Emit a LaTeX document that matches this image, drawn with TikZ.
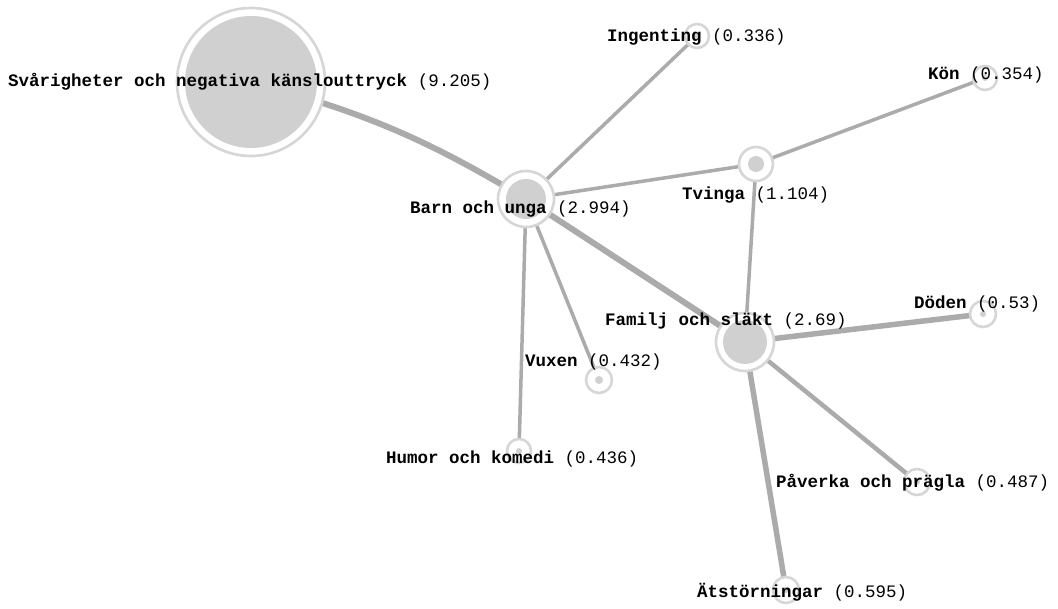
\documentclass[tikz,border=0pt]{standalone}
\usepackage{fontspec}
\setmonofont{Liberation Mono}
\usetikzlibrary{backgrounds}
\definecolor{ringgray}{HTML}{D6D6D6}
\definecolor{fillgray}{HTML}{D0D0D0}
\definecolor{edgegray}{HTML}{ABABAB}
\tikzset{
  bubble/.style 2 args={circle, draw=ringgray, line width=2.6pt, fill=white,
    minimum size=#1pt, inner sep=0pt,
    path picture={\fill[fillgray] (path picture bounding box.center) circle (#2pt);}},
  lbl/.style={anchor=west, inner sep=0pt, text=black,
    font=\fontsize{17.5}{19}\selectfont\ttfamily},
  edge/.style={draw=edgegray, line width=#1pt},
}
\newcommand{\lab}[2]{\textbf{#1} #2}
\begin{document}
\begin{tikzpicture}[x=1pt,y=-1pt]
\useasboundingbox (0,0) rectangle (1058,609);
% nodes
\node[bubble={148}{66}] (big) at (251,82) {};
\node[bubble={56}{20}] (barn) at (526,199) {};
\node[bubble={34}{8}] (tv) at (756,164) {};
\node[bubble={58}{22}] (fam) at (745,342) {};
\node[bubble={24}{3}] (ing) at (697,36) {};
\node[bubble={24}{3}] (kon) at (985,78) {};
\node[bubble={26}{4}] (vux) at (599,380) {};
\node[bubble={24}{3}] (hum) at (519,451) {};
\node[bubble={26}{3}] (dod) at (983,314) {};
\node[bubble={26}{3}] (pav) at (917,482) {};
\node[bubble={26}{3}] (ats) at (786,590) {};
% edges
\begin{pgfonlayer}{background}
\fill[white] (0,0) rectangle (1058,609);
\draw[edge=6] (big.center) to[bend left=8] (barn.center);
\draw[edge=3.5] (barn.center) -- (ing.center);
\draw[edge=3.5] (barn.center) -- (tv.center);
\draw[edge=3.5] (tv.center) -- (kon.center);
\draw[edge=3.5] (tv.center) -- (fam.center);
\draw[edge=6] (barn.center) -- (fam.center);
\draw[edge=3.5] (barn.center) -- (vux.center);
\draw[edge=3.5] (barn.center) -- (hum.center);
\draw[edge=5.5] (fam.center) -- (dod.center);
\draw[edge=4.5] (fam.center) -- (pav.center);
\draw[edge=5.5] (fam.center) -- (ats.center);
\end{pgfonlayer}
% labels
\node[lbl] (lbig) at (8,82) {\lab{Svårigheter och negativa känslouttryck}{(9.205)}};
\node[lbl] (ling) at (607,37) {\lab{Ingenting}{(0.336)}};
\node[lbl] (lkon) at (928,75) {\lab{Kön}{(0.354)}};
\node[lbl] (lbarn) at (410,209) {\lab{Barn och unga}{(2.994)}};
\node[lbl] (ltv) at (682,195) {\lab{Tvinga}{(1.104)}};
\node[lbl] (lfam) at (605,321) {\lab{Familj och släkt}{(2.69)}};
\node[lbl] (ldod) at (914,304) {\lab{Döden}{(0.53)}};
\node[lbl] (lvux) at (525,362) {\lab{Vuxen}{(0.432)}};
\node[lbl] (lhum) at (386,459) {\lab{Humor och komedi}{(0.436)}};
\node[lbl] (lpav) at (776,483) {\lab{Påverka och prägla}{(0.487)}};
\node[lbl] (lats) at (697,592) {\lab{Ätstörningar}{(0.595)}};
\end{tikzpicture}
\end{document}
